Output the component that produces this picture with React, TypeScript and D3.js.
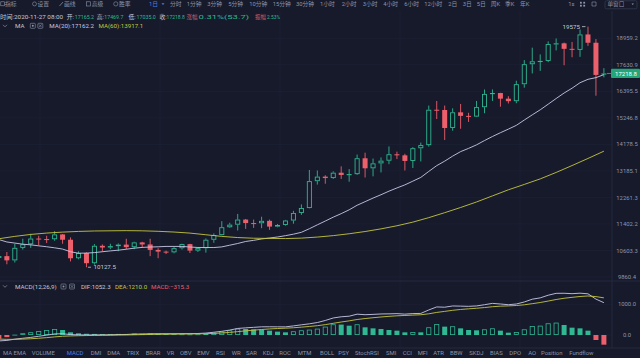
import React from 'react';
import * as d3 from 'd3';

// ---------- DATA (daily candles 2020-09-12 .. 2020-11-27) ----------
const opens = [10390, 10440, 10320, 10680, 10785, 10955, 10940, 10935, 11080, 10920, 10380, 10530, 10240, 10740, 10690, 10730, 10775, 10700, 10840,
  10780, 10620, 10570, 10550, 10670, 10790, 10600, 10670, 10920, 11060, 11300, 11380, 11540, 11430, 11425, 11500, 11320, 11370, 11510, 11750, 11910, 12820, 12980, 12930, 13120, 13040, 13070, 13650, 13280, 13460, 13560,
  13800, 13760, 13550, 14030, 14150, 15590, 15580, 14830, 15480, 15330, 15300, 15700, 16280, 16320, 16070, 15960, 16720, 17660, 17800, 17820, 18660, 18700, 18420, 18370, 19160, 18730, 17165.2];
const highs = [10480, 10560, 10800, 10950, 11100, 11040, 11040, 11180, 11090, 10990, 10580, 10550, 10790, 10780, 10800, 10810, 10950, 10860, 10860,
  10950, 10670, 10600, 10700, 10800, 10800, 10690, 10960, 11110, 11490, 11440, 11720, 11560, 11540, 11630, 11540, 11400, 11530, 11820, 12030, 13220, 13200, 13030, 13170, 13350, 13250, 13790, 13860, 13640, 13680, 14100,
  13900, 13820, 14070, 14250, 15770, 15970, 15770, 15650, 15840, 15460, 15970, 16480, 16480, 16330, 16180, 16880, 17860, 18480, 18140, 18800, 18950, 18740, 18770, 19420, 19575, 18920, 17469.7];
const lows = [10260, 10210, 10260, 10630, 10680, 10750, 10820, 10890, 10800, 10290, 10350, 10127.5, 10200, 10570, 10640, 10580, 10640, 10640, 10680,
  10440, 10380, 10500, 10520, 10630, 10530, 10560, 10540, 10830, 11050, 11280, 11200, 11250, 11280, 11270, 11220, 11300, 11350, 11410, 11690, 11900, 12700, 12730, 12900, 12900, 12800, 13040, 12950, 12990, 13130, 13430,
  13620, 13200, 13290, 13530, 14090, 15200, 14350, 14720, 14800, 15080, 15280, 15440, 15970, 15720, 15860, 15870, 16560, 17220, 17340, 17760, 18340, 17610, 18000, 18020, 18570, 16200, 17035.0];
const closes = [10440, 10320, 10680, 10785, 10955, 10940, 10935, 11080, 10920, 10380, 10530, 10240, 10740, 10690, 10730, 10775, 10700, 10840, 10780,
  10620, 10570, 10550, 10670, 10790, 10600, 10670, 10920, 11060, 11300, 11380, 11540, 11430, 11425, 11500, 11320, 11370, 11510, 11750, 11910, 12820, 12980, 12930, 13120, 13040, 13070, 13650, 13280, 13460, 13560, 13800,
  13760, 13550, 14030, 14150, 15590, 15580, 14830, 15480, 15330, 15300, 15700, 16280, 16320, 16070, 15960, 16720, 17660, 17800, 17820, 18660, 18700, 18420, 18370, 19160, 18730, 17150, 17218.8];

const ma20 = [10924.5, 10853, 10820.5, 10786.8, 10768.5, 10739, 10712.3, 10680.8, 10644.3, 10567.3, 10524.3, 10527.8, 10541.3, 10567.3, 10591.3, 10611.5, 10640, 10670.5, 10692.5,
  10704, 10710.5, 10722, 10721.5, 10721.8, 10704, 10690.5, 10689.8, 10688.8, 10707.8, 10757.8, 10808.3, 10867.8, 10902, 10942.5, 10972, 11001.8, 11042.3, 11087.8, 11144.3, 11254.3, 11374.8, 11493.8, 11616.3, 11728.8, 11852.3, 12001.3, 12119.3, 12239.3, 12352.3, 12473.3,
  12584.3, 12690.3, 12820.5, 12953, 13166.5, 13377, 13543, 13729.5, 13900.5, 14024.5, 14160.5, 14328, 14488, 14639.5, 14784, 14937.5, 15156.5, 15373.5, 15586.5, 15829.5, 16076.5, 16320, 16537, 16787.5, 16944.5, 17023, 17162.2];

const ma60Index = [0, 4, 8, 12, 16, 20, 24, 28, 32, 36, 40, 44, 48, 52, 56, 60, 64, 68, 72, 76];
const ma60Values = [10950, 11080, 11150, 11185, 11195, 11175, 11120, 11020, 10965, 10955, 11000, 11100, 11250, 11460, 11760, 12110, 12520, 12900, 13380, 13917.1];

const macdHist = [-120, -70, 10, 55, 88, 130, 163, 195, 163, 88, 55, 40, 35, 30, 28, 35, 32, 45, 40, 45, 38, 30, 25, 22, 20, 22, 40, 76, 109, 152,
  206, 195, 184, 174, 141, 109, 87, 120, 152, 174, 206, 272, 348, 340, 303, 348, 250, 217, 195, 163, 141, 87, 98, 87, 250, 358, 272, 283, 217, 163,
  152, 184, 217, 141, 76, 98, 184, 293, 303, 380, 402, 326, 239, 217, 141, -163, -315.3];
const difValues = [-193, -176.8, -135.5, -106.1, -78.6, -41.4, -4.5, 35.9, 40.3, 13.8, 4.2, 1.7, 3.6, 4.8, 7.3, 15.2, 17.7, 29.8, 32.3, 40.4,
  41.7, 41.4, 42, 43.3, 44.8, 48.5, 62.5, 90, 120.1, 160.6, 213.4, 232.3, 249.8, 266.5, 267.6, 265.3, 265.1, 296.6, 331.6, 364.4,
  406.1, 473.1, 554.6, 593.1, 612.5, 678.5, 660.8, 671.4, 684.8, 689.1, 695.8, 679.6, 697.4, 702.8, 815.5, 914.3, 905.3, 946.1, 940.3, 933.6,
  947.1, 986.1, 1029.8, 1009.4, 986.4, 1009.6, 1075.6, 1166.8, 1209.6, 1295.6, 1356.9, 1359.6, 1346, 1362.1, 1341.8, 1169.4, 1052.3];
const deaValues = [-133, -141.8, -140.5, -133.6, -122.6, -106.4, -86, -61.6, -41.2, -30.2, -23.3, -18.3, -13.9, -10.2, -6.7, -2.3, 1.7, 7.3, 12.3, 17.9,
  22.7, 26.4, 29.5, 32.3, 34.8, 37.5, 42.5, 52, 65.6, 84.6, 110.4, 134.8, 157.8, 179.5, 197.1, 210.8, 221.6, 236.6, 255.6, 277.4,
  303.1, 337.1, 380.6, 423.1, 461, 504.5, 535.8, 562.9, 587.3, 607.6, 625.3, 636.1, 648.4, 659.3, 690.5, 735.3, 769.3, 804.6, 831.8, 852.1,
  871.1, 894.1, 921.3, 938.9, 948.4, 960.6, 983.6, 1020.3, 1058.1, 1105.6, 1155.9, 1196.6, 1226.5, 1253.6, 1271.3, 1250.9, 1210.0];

const priceTicks = [9860.4, 10603.3, 11402.2, 12261.3, 13185.1, 14178.5, 15246.8, 16395.5, 17630.9, 18959.2];
const macdTicks = [0, 1000];

const topTabs: [string, number][] = [["分时", 170], ["1分钟", 186.7], ["3分钟", 207.3], ["5分钟", 228.3], ["10分钟", 249.3], ["15分钟", 272.7], ["30分钟", 296],
  ["1小时", 320], ["2小时", 341.7], ["3小时", 362.7], ["4小时", 383.3], ["6小时", 404.3], ["12小时", 424.3], ["2日", 448.3], ["3日", 462.7], ["5日", 476.7], ["周K", 490.7], ["季K", 505], ["年K", 520], ["1s", 568.3]];
const toolItems: [string, number][] = [["指标", 5], ["设置", 37.5], ["画线", 64], ["高级", 91.7], ["胜率", 119]];
const indicatorTabs: [string, number][] = [["MA", 3], ["EMA", 13.6], ["VOLUME", 31.7], ["MACD", 66.7], ["DMI", 90.7], ["DMA", 107.3], ["TRIX", 126.7], ["BRAR", 145.7],
  ["VR", 166.7], ["OBV", 180], ["EMV", 197.3], ["RSI", 216], ["WR", 231.7], ["SAR", 246], ["KDJ", 262.7], ["ROC", 279.3], ["MTM", 297.7], ["BOLL", 320],
  ["PSY", 338.3], ["StochRSI", 355], ["SMI", 386], ["CCI", 402.7], ["MFI", 417.7], ["ATR", 433.3], ["BBW", 450], ["SKDJ", 469.3], ["BIAS", 490], ["DPO", 509.3],
  ["AO", 528.3], ["Position", 541], ["Fundflow", 569.3]];

const BG = '#161a2b';
const UP = '#2fb892';
const DOWN = '#ee5f6c';
const GRID = '#1e2336';
const SEP = '#2a2f44';
const TXT = '#8f95aa';
const LIGHT = '#c5c9d6';
const MA20C = '#c8c7e6';
const MA60C = '#c5c63c';
const FONT = "Roboto, 'Noto Sans CJK SC', sans-serif";

export default function App() {
  const W = 640, H = 358;
  const n = closes.length;
  const x = d3.scaleLinear().domain([0, n - 1]).range([-1.1, 603.9]);
  const y = d3.scaleLog().domain([9860.4, 18959.2]).range([277, 38.3]);
  const ym = d3.scaleLinear().domain([0, 1000]).range([335, 304.3]);

  const ma20Line = d3.line<number>().x((_, i) => x(i)).y(v => y(v));
  const ma60Line = d3.line<number>().x((_, i) => x(ma60Index[i])).y(v => y(v)).curve(d3.curveMonotoneX);
  const macdLine = d3.line<number>().x((_, i) => x(i)).y(v => ym(v));

  const bw = 5;
  const lastY = y(closes[n - 1]);
  const hiIdx = highs.indexOf(d3.max(highs) as number);
  const loIdx = lows.indexOf(d3.min(lows) as number);
  const f1 = d3.format('.1f');

  return (
    <svg width={W} height={H} style={{ position: 'absolute', left: 0, top: 0, background: BG }} fontFamily={FONT}>
      <defs>
        <clipPath id="mainClip"><rect x={0} y={11} width={612} height={270} /></clipPath>
        <clipPath id="macdClip"><rect x={0} y={281} width={612} height={67} /></clipPath>
      </defs>
      <rect x={0} y={0} width={W} height={H} fill={BG} />

      {/* grid */}
      {priceTicks.map((t, i) => (
        <line key={'hg' + i} x1={0} x2={612} y1={y(t)} y2={y(t)} stroke={GRID} strokeWidth={0.6} />
      ))}
      {[40, 160, 280, 400, 520].map((gx, i) => (
        <line key={'vg' + i} x1={gx} x2={gx} y1={11} y2={348} stroke={GRID} strokeWidth={0.6} />
      ))}
      {macdTicks.map((t, i) => (
        <line key={'mg' + i} x1={0} x2={612} y1={ym(t)} y2={ym(t)} stroke={GRID} strokeWidth={0.6} />
      ))}

      {/* separators */}
      <line x1={0} x2={640} y1={281} y2={281} stroke={SEP} strokeWidth={0.8} />
      <line x1={0} x2={640} y1={348} y2={348} stroke={SEP} strokeWidth={0.8} />
      <line x1={612} x2={612} y1={11} y2={348} stroke={SEP} strokeWidth={0.8} />

      {/* candles */}
      <g clipPath="url(#mainClip)">
        {closes.map((c, i) => {
          const o = opens[i];
          const up = c >= o;
          const cx = x(i);
          const top = y(Math.max(o, c));
          const bot = y(Math.min(o, c));
          const hgt = Math.max(1, bot - top);
          const col = up ? UP : DOWN;
          if (up) {
            return (
              <g key={'c' + i}>
                <line x1={cx} x2={cx} y1={y(highs[i])} y2={top} stroke={col} strokeWidth={0.9} />
                <line x1={cx} x2={cx} y1={top + hgt} y2={y(lows[i])} stroke={col} strokeWidth={0.9} />
                <rect x={cx - bw / 2 + 0.45} y={top + 0.45} width={bw - 0.9} height={Math.max(0.2, hgt - 0.9)} fill={BG} stroke={col} strokeWidth={0.9} />
              </g>
            );
          }
          return (
            <g key={'c' + i}>
              <line x1={cx} x2={cx} y1={y(highs[i])} y2={y(lows[i])} stroke={col} strokeWidth={0.9} />
              <rect x={cx - bw / 2} y={top} width={bw} height={hgt} fill={col} />
            </g>
          );
        })}
        <path d={ma20Line(ma20) || ''} fill="none" stroke={MA20C} strokeWidth={0.9} />
        <path d={ma60Line(ma60Values) || ''} fill="none" stroke={MA60C} strokeWidth={0.9} />
      </g>

      {/* high / low markers */}
      <line x1={x(hiIdx) - 6} x2={x(hiIdx) - 2.5} y1={y(highs[hiIdx])} y2={y(highs[hiIdx])} stroke={LIGHT} strokeWidth={0.8} />
      <text x={x(hiIdx) - 8} y={y(highs[hiIdx]) + 2} fontSize={6.2} fill={LIGHT} textAnchor="end">{d3.format('d')(highs[hiIdx])}</text>
      <line x1={x(loIdx) + 1.5} x2={x(loIdx) + 4.5} y1={y(lows[loIdx])} y2={y(lows[loIdx])} stroke={LIGHT} strokeWidth={0.8} />
      <text x={x(loIdx) + 7} y={y(lows[loIdx]) + 2.2} fontSize={6.2} fill={LIGHT}>{f1(lows[loIdx])}</text>

      {/* price axis */}
      {priceTicks.map((t, i) => (
        <text key={'pt' + i} x={627} y={y(t) + 2.1} fontSize={5.9} fill={TXT} textAnchor="middle">{f1(t)}</text>
      ))}
      <line x1={607} x2={611} y1={lastY} y2={lastY} stroke={UP} strokeWidth={0.8} />
      <rect x={611} y={lastY - 4.6} width={29} height={9.2} fill="#23a779" rx={1} />
      <text x={626} y={lastY + 2.1} fontSize={6} fill="#ffffff" textAnchor="middle">{f1(closes[n - 1])}</text>

      {/* MACD */}
      <g clipPath="url(#macdClip)">
        {macdHist.map((v, i) => {
          const cx = x(i);
          const top = ym(Math.max(v, 0));
          const bot = ym(Math.min(v, 0));
          const hgt = Math.max(0.8, bot - top);
          if (v < 0) return <rect key={'h' + i} x={cx - bw / 2} y={top} width={bw} height={hgt} fill={DOWN} />;
          const prev = i > 0 ? macdHist[i - 1] : -Infinity;
          const hollow = v >= prev;
          if (hollow && hgt > 1.6) {
            return <rect key={'h' + i} x={cx - bw / 2 + 0.4} y={top + 0.4} width={bw - 0.8} height={hgt - 0.8} fill="none" stroke={UP} strokeWidth={0.8} />;
          }
          return <rect key={'h' + i} x={cx - bw / 2} y={top} width={bw} height={hgt} fill={UP} />;
        })}
        <path d={macdLine(difValues) || ''} fill="none" stroke={MA20C} strokeWidth={0.9} />
        <path d={macdLine(deaValues) || ''} fill="none" stroke={MA60C} strokeWidth={0.9} />
      </g>
      {macdTicks.map((t, i) => (
        <text key={'mt' + i} x={627} y={ym(t) + 2.1} fontSize={5.9} fill={TXT} textAnchor="middle">{f1(t)}</text>
      ))}

      {/* top toolbar */}
      <g fontSize={5.8} fill={TXT}>
        <rect x={0.8} y={1.8} width={3.6} height={4} fill="none" stroke={TXT} strokeWidth={0.6} />
        <circle cx={34.5} cy={3.9} r={2} fill="none" stroke={TXT} strokeWidth={0.6} />
        <line x1={59.5} y1={6} x2={63} y2={2} stroke={TXT} strokeWidth={0.7} />
        <rect x={86.3} y={1.8} width={4.2} height={4.2} fill="none" stroke={TXT} strokeWidth={0.6} />
        <circle cx={115.8} cy={3.9} r={2.1} fill="none" stroke={TXT} strokeWidth={0.6} />
        {toolItems.map(([t, tx], i) => <text key={'ti' + i} x={tx} y={6.2}>{t}</text>)}
        <text x={149} y={6.2} fill="#4d80f0">1日</text>
        <path d="M161.5,3.2 L164.5,3.2 L163,5 Z" fill="#4d80f0" />
        {topTabs.map(([t, tx], i) => <text key={'tt' + i} x={tx} y={6.2}>{t}</text>)}
        <rect x={580} y={1.8} width={1.8} height={1.8} fill={TXT} />
        <rect x={583.3} y={1.8} width={1.8} height={1.8} fill={TXT} />
        <rect x={580} y={4.8} width={1.8} height={1.8} fill={TXT} />
        <rect x={583.3} y={4.8} width={1.8} height={1.8} fill={TXT} />
        <path d="M592,2 L596,2 L596,6 L592,6 Z" fill="none" stroke={TXT} strokeWidth={0.6} />
        <rect x={605} y={0.8} width={32} height={8} rx={1.5} fill="none" stroke="#3a3f55" strokeWidth={0.7} />
        <text x={607.5} y={6.3} fontSize={5.6}>单窗口</text>
        <path d="M631.5,3.6 L634,3.6 L632.75,5 Z" fill={TXT} />
      </g>

      {/* info line */}
      <g fontSize={5.8}>
        <text x={0} y={19.2} fill={LIGHT} textLength={63} lengthAdjust="spacingAndGlyphs">时间:2020-11-27 08:00</text>
        <text x={66.7} y={19.2} fill={LIGHT}>开:</text>
        <text x={74.8} y={19.2} fill={UP} fontSize={5.3}>17165.2</text>
        <text x={96.7} y={19.2} fill={LIGHT}>高:</text>
        <text x={104.2} y={19.2} fill={UP} fontSize={5.3}>17469.7</text>
        <text x={128.4} y={19.2} fill={LIGHT}>低:</text>
        <text x={136.6} y={19.2} fill={UP} fontSize={5.3}>17035.0</text>
        <text x={159.4} y={19.2} fill={LIGHT}>收:</text>
        <text x={166.6} y={19.2} fill={UP} fontSize={5.0}>17218.8</text>
        <text x={186.4} y={19.2} fill="#c9646f" fontSize={5.5}>涨幅</text>
        <text x={198.6} y={19.2} fill={UP} textLength={50.5} lengthAdjust="spacingAndGlyphs">0.31%(53.7)</text>
        <text x={255} y={19.2} fill="#c9646f" fontSize={5.5}>振幅</text>
        <text x={267} y={19.2} fill={UP} textLength={13} lengthAdjust="spacingAndGlyphs">2.53%</text>
      </g>

      {/* MA legend */}
      <g fontSize={6.2}>
        <path d="M3,24.8 L5,26.8 L7,24.8" fill="none" stroke={TXT} strokeWidth={0.7} />
        <text x={15} y={27.6} fill={LIGHT}>MA</text>
        <rect x={30.3} y={23.3} width={5} height={5} rx={0.8} fill="none" stroke={TXT} strokeWidth={0.6} />
        <circle cx={32.8} cy={25.8} r={1} fill={TXT} />
        <rect x={37.8} y={23.3} width={5} height={5} rx={0.8} fill="none" stroke={TXT} strokeWidth={0.6} />
        <path d="M38.8,24.3 L41.8,27.3 M41.8,24.3 L38.8,27.3" stroke={TXT} strokeWidth={0.6} />
        <text x={49.3} y={27.6} fill={MA20C}>MA(20):{f1(ma20[n - 1])}</text>
        <text x={98.5} y={27.6} fill={MA60C}>MA(60):{f1(ma60Values[ma60Values.length - 1])}</text>
      </g>

      {/* MACD legend */}
      <g fontSize={6.2}>
        <path d="M3,285.3 L5,287.3 L7,285.3" fill="none" stroke={TXT} strokeWidth={0.7} />
        <text x={15} y={289} fill={LIGHT}>MACD(12,26,9)</text>
        <rect x={61} y={284} width={5} height={5} rx={0.8} fill="none" stroke={TXT} strokeWidth={0.6} />
        <circle cx={63.5} cy={286.5} r={1} fill={TXT} />
        <rect x={69.5} y={284} width={5} height={5} rx={0.8} fill="none" stroke={TXT} strokeWidth={0.6} />
        <path d="M70.5,285 L73.5,288 M73.5,285 L70.5,288" stroke={TXT} strokeWidth={0.6} />
        <text x={81} y={289} fill={LIGHT}>DIF:{f1(difValues[n - 1])}</text>
        <text x={115} y={289} fill={MA60C}>DEA:{f1(deaValues[n - 1])}</text>
        <text x={151} y={289} fill={DOWN}>MACD:{f1(macdHist[n - 1])}</text>
      </g>

      {/* bottom indicator tabs */}
      <g fontSize={5.9}>
        {indicatorTabs.map(([t, tx], i) => (
          <text key={'it' + i} x={tx} y={355.3} fill={t === 'MACD' ? '#4d80f0' : TXT}>{t}</text>
        ))}
      </g>
    </svg>
  );
}
